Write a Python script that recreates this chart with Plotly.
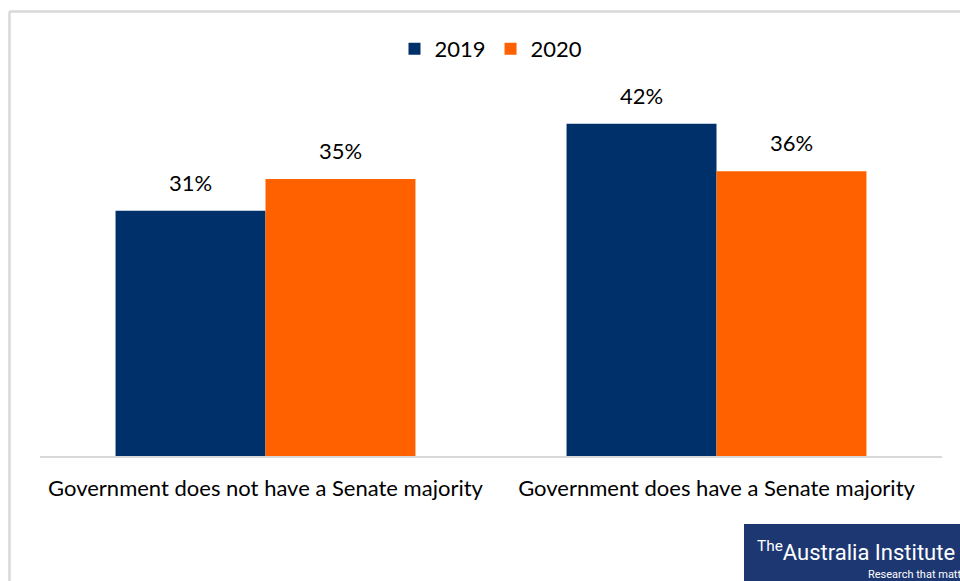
import plotly.graph_objects as go

categories = ["Government does not have a Senate majority", "Government does have a Senate majority"]
years = ["2019", "2020"]
values_2019 = [0.31, 0.42]
values_2020 = [0.35, 0.36]
colors = {"2019": "#00306a", "2020": "#ff6100"}

W, H = 960, 581
L, R, T, B = 40, 18, 100, 125
pw, ph = W - L - R, H - T - B
GAP = 0.335


def px(x):
    return (x - L) / pw


def py(y):
    return (H - B - y) / ph


fig = go.Figure()
for year, vals in zip(years, [values_2019, values_2020]):
    fig.add_trace(go.Bar(
        x=categories, y=vals, name=year,
        marker=dict(color=colors[year], line=dict(width=0)),
        hoverinfo="skip",
    ))

# value labels above each bar (offset to the centre of each bar in its group)
bar_w = pw / len(categories) * (1 - GAP) / len(years)
for year, vals, shift in zip(years, [values_2019, values_2020], [-bar_w / 2, bar_w / 2]):
    for c, v in zip(categories, vals):
        fig.add_annotation(
            x=c, y=v, xref="x", yref="y", text=f"{round(v*100)}%",
            showarrow=False, yanchor="bottom", xshift=shift, yshift=13,
            font=dict(family="Lato, Open Sans, sans-serif", size=22, color="#000000"),
        )

# outer chart frame
fig.add_shape(type="line", xref="paper", yref="paper",
              x0=px(9.5), y0=py(11.5), x1=px(962), y1=py(11.5),
              line=dict(color="#d9d9d9", width=2.5))
fig.add_shape(type="line", xref="paper", yref="paper",
              x0=px(9.5), y0=py(11.5), x1=px(9.5), y1=py(584),
              line=dict(color="#d9d9d9", width=2.5))

# logo block
fig.add_shape(type="rect", xref="paper", yref="paper",
              x0=px(744), y0=py(524), x1=px(962), y1=py(584),
              fillcolor="#1d3773", line=dict(width=0))
fig.add_annotation(xref="paper", yref="paper", x=px(755), y=py(551),
                   xanchor="left", yanchor="middle", showarrow=False,
                   text="<sup>The</sup>Australia Institute",
                   font=dict(family="Roboto, sans-serif", size=22, color="#ffffff"))
fig.add_annotation(xref="paper", yref="paper", x=px(866), y=py(574),
                   xanchor="left", yanchor="middle", showarrow=False,
                   text="Research that matters",
                   font=dict(family="Roboto, sans-serif", size=11, color="#ffffff"))

fig.update_layout(
    width=W, height=H,
    margin=dict(l=L, r=R, t=T, b=B, pad=0),
    paper_bgcolor="#ffffff", plot_bgcolor="#ffffff",
    barmode="group", bargap=GAP, bargroupgap=0,
    font=dict(family="Lato, Open Sans, sans-serif", size=22, color="#000000"),
    legend=dict(orientation="h", x=0.5, xanchor="center", y=py(49), yanchor="middle",
                font=dict(size=22), itemsizing="constant", traceorder="normal",
                itemwidth=30, bgcolor="rgba(0,0,0,0)"),
    xaxis=dict(showline=True, linecolor="#d9d9d9", linewidth=1.5, ticks="",
               showgrid=False, ticklabelstandoff=12, tickfont=dict(size=22, color="#000000")),
    yaxis=dict(range=[0, 0.45], visible=False, showgrid=False, zeroline=False),
    showlegend=True,
)

fig.write_html("out.html")
